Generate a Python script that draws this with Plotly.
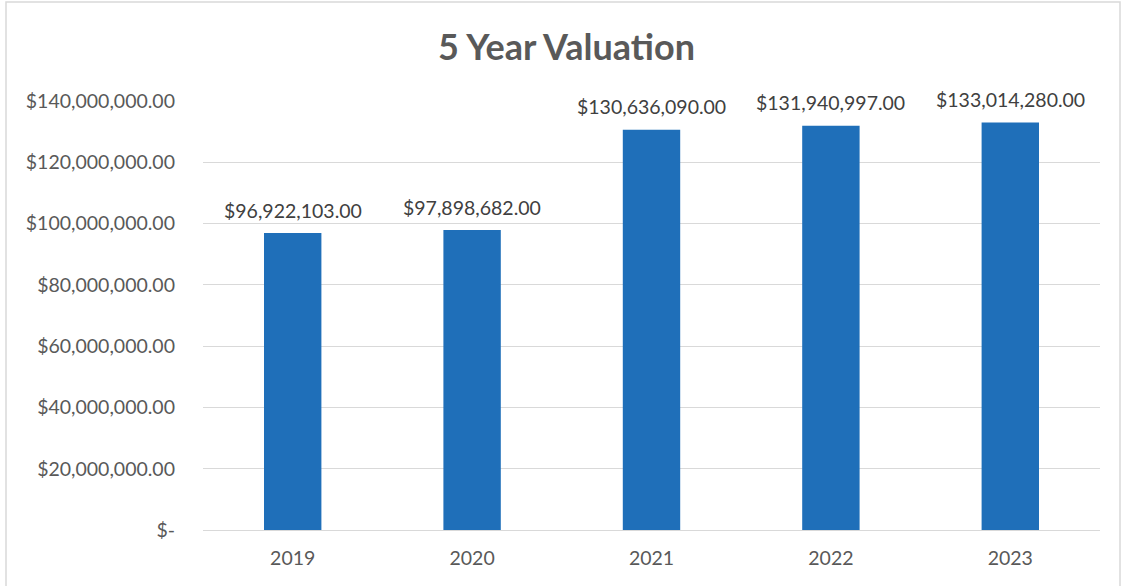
import plotly.graph_objects as go

years = ["2019", "2020", "2021", "2022", "2023"]
values = [96922103.00, 97898682.00, 130636090.00, 131940997.00, 133014280.00]
tick_vals = [0, 20000000, 40000000, 60000000, 80000000, 100000000, 120000000, 140000000]
tick_text = ["$-", "$20,000,000.00", "$40,000,000.00", "$60,000,000.00", "$80,000,000.00",
             "$100,000,000.00", "$120,000,000.00", "$140,000,000.00"]
labels = ["${:,.2f}".format(v) for v in values]

W, H = 1123, 586
L, T, R, B = 203, 101, 23, 56
pw, ph = W - L - R, H - T - B

FONT = "Lato, Open Sans, sans-serif"

fig = go.Figure(go.Bar(
    x=years, y=values,
    marker=dict(color="#1F6FB9", line=dict(width=0)),
    width=0.32, cliponaxis=False, hoverinfo="skip",
))

# category index positions of each year on the category axis
for i, (v, lab) in enumerate(zip(values, labels)):
    fig.add_annotation(x=i, y=v, text=lab, showarrow=False, yanchor="middle", yshift=23,
                       font=dict(family=FONT, size=19.5, color="#404040"))

fig.update_layout(
    width=W, height=H,
    margin=dict(l=L, r=R, t=T, b=B),
    paper_bgcolor="white", plot_bgcolor="white",
    showlegend=False,
    title=dict(text="<b>5 Year Valuation</b>", x=566.5 / W, xref="container", xanchor="center",
               y=1 - 47 / H, yanchor="middle",
               font=dict(family=FONT, size=36, color="#595959")),
    font=dict(family=FONT, size=19.5, color="#595959"),
)
fig.update_xaxes(type="category", range=[-0.5, len(years) - 0.5], showgrid=False, showline=False,
                 ticks="", ticklabelstandoff=14, tickfont=dict(size=19.5, color="#595959"))
fig.update_yaxes(range=[0, 140000000], tickvals=tick_vals, ticktext=tick_text,
                 showgrid=True, gridcolor="#D9D9D9", gridwidth=1, zeroline=True,
                 zerolinecolor="#D9D9D9", zerolinewidth=1, showline=False, ticks="",
                 ticklabelstandoff=27, tickfont=dict(size=19.5, color="#595959"))

fig.add_shape(type="rect", xref="paper", yref="paper",
              x0=(6 - L) / pw, x1=(1120 - L) / pw,
              y0=(530 - 592) / ph, y1=(530 - 2) / ph,
              line=dict(color="#D9D9D9", width=1.5), fillcolor="rgba(0,0,0,0)", layer="below")

fig.write_html("out.html", config={"displayModeBar": False},
               post_script="document.body.style.margin='0';document.body.style.padding='0';")
